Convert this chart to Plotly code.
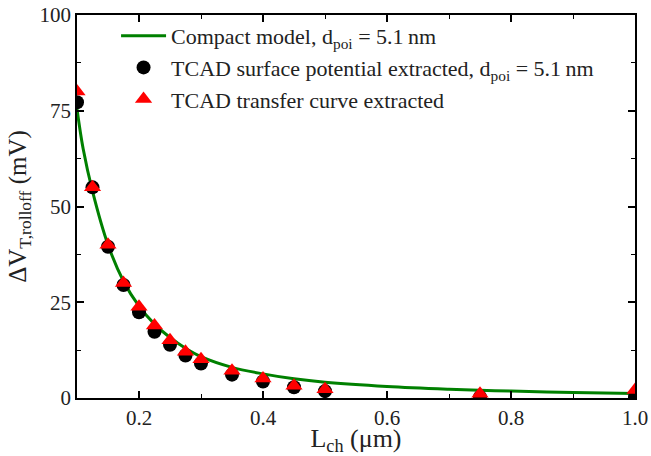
import plotly.graph_objects as go

# Data
L_pts = [0.1, 0.125, 0.15, 0.175, 0.2, 0.225, 0.25, 0.275, 0.3, 0.35, 0.4, 0.45, 0.5, 0.75, 1.0]
dV_surface = [77.2, 55.0, 39.5, 29.5, 22.4, 17.3, 13.9, 11.1, 9.0, 6.1, 4.3, 2.8, 1.8, 0.3, 0.2]
dV_transfer = [80.0, 55.0, 40.0, 30.0, 23.8, 18.9, 15.1, 12.1, 10.1, 7.1, 5.1, 3.2, 2.3, 1.1, 2.1]

L_model = [0.1, 0.11, 0.125, 0.15, 0.175, 0.2, 0.225, 0.25, 0.275, 0.3, 0.35, 0.4, 0.45, 0.5, 0.6, 0.7, 0.8, 0.9, 1.0]
dV_model = [75.5, 65.0, 54.0, 40.0, 30.5, 24.0, 19.3, 15.8, 13.0, 10.8, 8.0, 6.3, 5.0, 4.1, 3.0, 2.3, 1.8, 1.45, 1.2]

x_ticks = [0.2, 0.4, 0.6, 0.8, 1.0]
x_tick_text = ["0.2", "0.4", "0.6", "0.8", "1.0"]
y_ticks = [0, 25, 50, 75, 100]

FONT = "Liberation Serif"

fig = go.Figure()
fig.add_trace(go.Scatter(
    x=L_model, y=dV_model, mode="lines", line=dict(color="#008000", width=3, shape="spline"),
    name="Compact model, d<sub>poi</sub> = 5.1\u2009nm"))
fig.add_trace(go.Scatter(
    x=L_pts, y=dV_surface, mode="markers",
    marker=dict(symbol="circle", size=14, color="black"),
    name="TCAD surface potential extracted, d<sub>poi</sub> = 5.1\u2009nm"))
fig.add_trace(go.Scatter(
    x=L_pts, y=dV_transfer, mode="markers",
    marker=dict(symbol="triangle-up", size=15, color="#ff0000"),
    name="TCAD transfer curve extracted"))

axis_common = dict(
    showline=True, linecolor="black", linewidth=1.5, mirror="ticks",
    ticks="inside", ticklen=7, tickwidth=1.5, tickcolor="black",
    showgrid=False, zeroline=False, automargin=False,
    ticklabeloverflow="allow",
    tickfont=dict(family=FONT, size=21, color="#222"),
)

fig.update_xaxes(
    range=[0.1, 1.0], tickvals=x_ticks, ticktext=x_tick_text,
    minor=dict(ticks="inside", ticklen=4, tickwidth=1.2, tickcolor="black", dtick=0.1, tick0=0.1),
    title=dict(text="L<sub>ch</sub> (μm)", font=dict(family=FONT, size=26, color="#222"), standoff=2),
    **axis_common)
fig.update_yaxes(
    range=[0, 100], tickvals=y_ticks,
    minor=dict(ticks="inside", ticklen=4, tickwidth=1.2, tickcolor="black", dtick=12.5),
    title=dict(text="ΔV<sub>T,rolloff</sub> (mV)", font=dict(family=FONT, size=25, color="#222"), standoff=6),
    **axis_common)

fig.update_layout(
    width=651, height=456,
    margin=dict(l=77, r=16, t=15, b=58),
    plot_bgcolor="white", paper_bgcolor="white",
    font=dict(family=FONT, size=22, color="#222"),
    showlegend=True,
    legend=dict(x=0.07, y=1.0, xanchor="left", yanchor="top",
                bgcolor="rgba(0,0,0,0)", tracegroupgap=0,
                font=dict(family=FONT, size=22, color="#222"), itemwidth=45),
)

fig.write_html("out.html")
